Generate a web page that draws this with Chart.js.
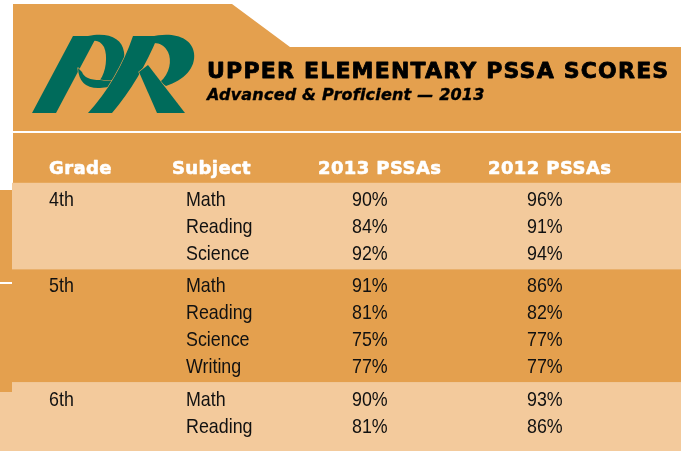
<!DOCTYPE html>
<html>
<head>
<meta charset="utf-8">
<script src="https://cdn.jsdelivr.net/npm/chart.js@4/dist/chart.umd.min.js"></script>
<style>
  html, body { margin: 0; padding: 0; background: #fff; }
  #wrap { width: 683px; height: 451px; }
</style>
</head>
<body>
<div id="wrap"><canvas id="chart" width="683" height="451"></canvas></div>
<script>
/* ---- Данные таблицы ---- */
const TITLE = "UPPER ELEMENTARY PSSA SCORES";
const SUBTITLE = "Advanced & Proficient — 2013";
const HEADERS = ["Grade", "Subject", "2013 PSSAs", "2012 PSSAs"];
const GRADES = ["4th", "5th", "6th"];
const SUBJECTS = [
  ["Math", "Reading", "Science"],
  ["Math", "Reading", "Science", "Writing"],
  ["Math", "Reading"]
];
const PSSA_2013 = [[90, 84, 92], [91, 81, 75, 77], [90, 81]];
const PSSA_2012 = [[96, 91, 94], [86, 82, 77, 77], [93, 86]];

/* ---- Оформление ---- */
const ORANGE = "#E4A04E";
const LIGHT  = "#F3CA9C";
const GREEN  = "#006B5B";
const BAND_COLORS = [LIGHT, ORANGE, LIGHT];
const COL_X  = [49, 186, 352, 527];   // колонки данных (ось x = пиксели холста)
const HEAD_X = [49, 172, 318, 488];   // колонки шапки
const GROUP_GAP = 0.2;                // доп. промежуток между классами, в строках
const HEAD_ROW = -1.2;                // строка шапки
const Y_MIN = -199 / 27, Y_MAX = (451 - 199) / 27;
const NARROW = 0.85;                  // сжатие шрифта ячеек (как Helvetica Narrow)

// строки таблицы -> значения по оси y
const rows = [];
let idx = 0;
GRADES.forEach((g, gi) => {
  SUBJECTS[gi].forEach((s, k) => {
    rows.push({ gi, k, y: idx + gi * GROUP_GAP });
    idx++;
  });
});

const dsGrade = rows.filter(r => r.k === 0).map(r => ({ x: COL_X[0], y: r.y, label: GRADES[r.gi] }));
const dsSubj  = rows.map(r => ({ x: COL_X[1], y: r.y, label: SUBJECTS[r.gi][r.k] }));
const ds2013  = rows.map(r => ({ x: COL_X[2], y: r.y, label: PSSA_2013[r.gi][r.k] + "%" }));
const ds2012  = rows.map(r => ({ x: COL_X[3], y: r.y, label: PSSA_2012[r.gi][r.k] + "%" }));

/* ---- Логотип PR ---- */
function drawLogo(ctx) {
  ctx.save();
  ctx.fillStyle = GREEN;
  ctx.strokeStyle = ORANGE;
  ctx.lineWidth = 1.2;
  ctx.lineJoin = "round";
  const shape = (fn, cut) => {
    ctx.beginPath(); fn(); ctx.closePath();
    if (cut) ctx.stroke();
    ctx.fill();
  };
  // P: ножка
  shape(() => {
    ctx.moveTo(32, 113); ctx.lineTo(56, 113); ctx.lineTo(97, 36); ctx.lineTo(73, 36);
  });
  // P: петля
  shape(() => {
    ctx.moveTo(88, 36);
    ctx.bezierCurveTo(108, 32, 122, 38, 124, 52);
    ctx.bezierCurveTo(126, 66, 118, 78, 106, 84);
    ctx.lineTo(100, 80);
    ctx.bezierCurveTo(106, 72, 108, 56, 104, 47);
    ctx.bezierCurveTo(101, 42, 97, 40, 93, 41);
  });
  // P: нижний завиток
  shape(() => {
    ctx.moveTo(78, 68);
    ctx.quadraticCurveTo(79, 89, 100, 88);
    ctx.quadraticCurveTo(114, 87, 122, 80);
    ctx.quadraticCurveTo(110, 82, 100, 80);
    ctx.quadraticCurveTo(85, 80, 82, 72);
  }, true);
  // R: ножка
  shape(() => {
    ctx.moveTo(88, 113); ctx.lineTo(112, 113);
    ctx.quadraticCurveTo(140, 80, 158, 36);
    ctx.lineTo(133, 36);
    ctx.quadraticCurveTo(118, 80, 88, 113);
  }, true);
  // R: петля
  shape(() => {
    ctx.moveTo(150, 37);
    ctx.bezierCurveTo(172, 31, 192, 37, 194, 53);
    ctx.bezierCurveTo(196, 68, 184, 80, 166, 86);
    ctx.lineTo(160, 82);
    ctx.bezierCurveTo(170, 74, 172, 60, 168, 52);
    ctx.bezierCurveTo(165, 46, 160, 43, 154, 43);
  });
  // R: хвост
  shape(() => {
    ctx.moveTo(139, 72); ctx.lineTo(148, 65); ctx.lineTo(185, 113); ctx.lineTo(157, 113);
  }, true);
  ctx.restore();
}

/* ---- Фон, полосы, шапка ---- */
const backdrop = {
  id: "backdrop",
  beforeDraw(chart) {
    const ctx = chart.ctx, ys = chart.scales.y, xs = chart.scales.x, a = chart.chartArea;
    ctx.save();
    ctx.fillStyle = "#fff";
    ctx.fillRect(0, 0, chart.width, chart.height);

    // оранжевая «папка» со скошенным углом
    ctx.fillStyle = ORANGE;
    ctx.beginPath();
    ctx.moveTo(13, 4); ctx.lineTo(232, 4); ctx.lineTo(290, 47);
    ctx.lineTo(681, 47); ctx.lineTo(681, 200); ctx.lineTo(13, 200);
    ctx.closePath(); ctx.fill();

    // полосы по классам
    const firstY = gi => rows.find(r => r.gi === gi).y;
    const lastY = gi => rows.filter(r => r.gi === gi).pop().y;
    GRADES.forEach((g, gi) => {
      const top = gi === 0 ? ys.getPixelForValue(firstY(0) - 0.6)
                           : ys.getPixelForValue((lastY(gi - 1) + firstY(gi)) / 2);
      const bot = gi === GRADES.length - 1 ? a.bottom
                           : ys.getPixelForValue((lastY(gi) + firstY(gi + 1)) / 2);
      const left = gi === GRADES.length - 1 ? 0 : 12;
      ctx.fillStyle = BAND_COLORS[gi];
      ctx.fillRect(left, top, 681 - left, bot - top);
    });

    // левая полоска
    ctx.fillStyle = ORANGE;
    ctx.fillRect(0, 190, 12, 202);
    ctx.fillStyle = "#fff";
    ctx.fillRect(0, 282, 12, 2);

    // белая линия под заголовком
    ctx.fillRect(13, 131, 668, 2);

    drawLogo(ctx);

    // заголовок
    ctx.fillStyle = "#000";
    ctx.strokeStyle = "#000";
    ctx.lineJoin = "round";
    ctx.textBaseline = "alphabetic";
    ctx.textAlign = "left";
    ctx.font = "bold 22px 'DejaVu Sans'";
    ctx.letterSpacing = "1.2px";
    ctx.lineWidth = 0.8;
    ctx.fillText(TITLE, 207, 78);
    ctx.strokeText(TITLE, 207, 78);
    ctx.font = "italic bold 16px 'DejaVu Sans'";
    ctx.letterSpacing = "0.2px";
    ctx.lineWidth = 0.4;
    ctx.fillText(SUBTITLE, 207, 100);
    ctx.strokeText(SUBTITLE, 207, 100);

    // шапка таблицы
    ctx.fillStyle = "#fff";
    ctx.strokeStyle = "#fff";
    ctx.lineWidth = 0.6;
    ctx.font = "bold 18px 'DejaVu Sans'";
    ctx.letterSpacing = "0.4px";
    const hy = ys.getPixelForValue(HEAD_ROW) + 7;
    HEADERS.forEach((h, i) => {
      const hx = xs.getPixelForValue(HEAD_X[i]);
      ctx.fillText(h, hx, hy);
      ctx.strokeText(h, hx, hy);
    });
    ctx.letterSpacing = "0px";
    ctx.restore();
  }
};

/* ---- Текст ячеек по позициям точек ---- */
const cellText = {
  id: "cellText",
  afterDatasetsDraw(chart) {
    const ctx = chart.ctx;
    ctx.save();
    ctx.fillStyle = "#111";
    ctx.font = "21px 'Liberation Sans', Arial, sans-serif";
    ctx.textAlign = "left";
    ctx.textBaseline = "alphabetic";
    chart.data.datasets.forEach((ds, di) => {
      chart.getDatasetMeta(di).data.forEach((pt, i) => {
        ctx.save();
        ctx.translate(pt.x, pt.y + 7);
        ctx.scale(NARROW, 1);
        ctx.fillText(ds.data[i].label, 0, 0);
        ctx.restore();
      });
    });
    ctx.restore();
  }
};

new Chart(document.getElementById("chart"), {
  type: "scatter",
  data: {
    datasets: [
      { label: "Grade", data: dsGrade },
      { label: "Subject", data: dsSubj },
      { label: "2013", data: ds2013 },
      { label: "2012", data: ds2012 }
    ]
  },
  options: {
    responsive: false,
    animation: false,
    layout: { padding: 0 },
    elements: { point: { radius: 0, hoverRadius: 0 } },
    plugins: { legend: { display: false }, tooltip: { enabled: false } },
    scales: {
      x: { type: "linear", display: false, min: 0, max: 683 },
      y: { type: "linear", display: false, reverse: true, min: Y_MIN, max: Y_MAX }
    }
  },
  plugins: [backdrop, cellText]
});
</script>
</body>
</html>
